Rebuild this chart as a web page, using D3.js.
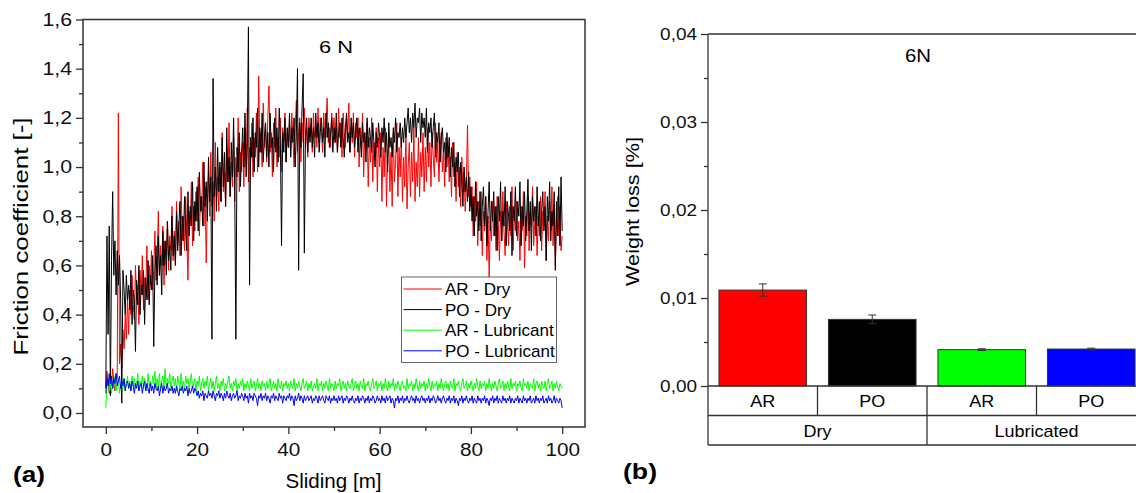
<!DOCTYPE html>
<html>
<head>
<meta charset="utf-8">
<script src="https://cdn.jsdelivr.net/npm/d3@7"></script>
<style>
  body { margin: 0; background: #fff; }
  svg { display: block; font-family: "Liberation Sans", Arial, sans-serif; }
  .axis path, .axis line { stroke: #333; stroke-width: 1.3px; }
  .axis text { fill: #111; }
</style>
</head>
<body>
<div id="chart"></div>
<script>
// friction coefficient over 0..100 m of sliding, sampled every 0.25 m
const slidingMax = 100;

const arDry = [
  0.10,0.17,0.12,0.08,0.15,0.11,0.18,0.13,0.09,0.16,0.14,1.22,0.20,0.28,0.18,0.34,0.26,0.40,0.30,0.46,
  0.32,0.50,0.40,0.56,0.44,0.38,0.60,0.46,0.52,0.36,0.58,0.48,0.64,0.42,0.55,0.50,0.68,0.46,0.60,0.52,
  0.66,0.50,0.58,0.74,0.54,0.62,0.82,0.56,0.68,0.60,0.76,0.52,0.70,0.64,0.78,0.58,0.72,0.66,0.84,0.62,
  0.74,0.60,0.86,0.68,0.78,0.64,0.92,0.70,0.80,0.66,0.88,0.72,0.54,0.82,0.76,0.94,0.68,0.84,0.74,0.90,
  0.78,0.96,0.72,0.88,0.82,1.02,0.76,0.92,0.61,0.86,0.98,0.80,1.06,0.84,0.94,0.78,1.10,0.88,0.96,0.82,
  1.00,0.86,1.14,0.90,0.98,0.84,1.08,0.94,1.18,0.88,1.02,0.92,1.12,0.86,1.04,0.96,1.20,0.90,1.06,0.98,
  1.10,0.92,1.16,1.00,1.24,0.94,1.08,1.02,1.18,0.96,1.12,1.04,1.22,0.98,1.37,1.06,1.14,1.00,1.26,1.08,
  1.16,1.02,1.20,1.33,1.06,1.14,0.96,1.18,1.08,1.24,1.00,1.12,1.04,1.20,0.98,1.16,1.10,1.22,1.02,1.14,
  1.08,1.18,1.04,1.22,1.12,1.00,1.16,1.27,1.06,1.14,1.20,1.02,1.18,1.10,1.24,1.08,1.16,1.04,1.20,1.12,
  1.18,1.06,1.22,1.12,1.16,1.08,1.24,1.10,1.20,1.14,1.06,1.22,1.12,1.18,1.28,1.10,1.16,1.08,1.22,1.14,
  1.20,1.10,1.16,1.06,1.24,1.12,1.18,1.04,1.22,1.14,1.08,1.20,1.12,1.26,1.06,1.16,1.10,1.22,1.04,1.18,
  1.12,1.20,1.00,1.16,1.08,1.22,0.96,1.14,1.06,1.18,0.92,1.12,1.02,1.20,0.94,1.10,1.04,1.16,0.90,1.12,
  1.00,1.14,0.86,1.08,0.96,1.16,0.84,1.04,1.12,0.90,1.06,0.84,1.14,0.94,1.02,1.18,0.88,1.08,0.96,1.12,
  0.86,1.04,0.92,1.14,0.83,1.00,1.10,0.88,1.06,0.94,1.16,0.86,1.02,0.92,1.12,0.88,1.06,0.96,1.14,0.90,
  1.08,0.94,1.16,1.00,1.10,0.92,1.14,1.04,0.96,1.18,1.02,1.10,0.94,1.08,1.14,0.98,1.06,0.92,1.12,1.00,
  1.08,0.94,1.04,0.88,1.10,0.96,1.02,0.86,1.06,0.92,1.00,0.84,1.04,0.90,0.98,0.82,0.94,1.17,0.88,0.96,
  0.84,0.92,0.72,0.88,0.78,0.94,0.68,0.86,0.76,0.90,0.64,0.82,0.74,0.88,0.62,0.80,0.55,0.78,0.70,0.86,
  0.72,0.84,0.66,0.88,0.76,0.62,0.82,0.70,0.90,0.74,0.64,0.86,0.78,0.68,0.84,0.72,0.92,0.66,0.80,0.74,
  0.86,0.70,0.78,0.62,0.84,0.74,0.90,0.59,0.80,0.72,0.88,0.66,0.82,0.76,0.92,0.68,0.78,0.84,0.64,0.80,
  0.72,0.88,0.66,0.82,0.76,0.90,0.62,0.80,0.70,0.86,0.74,0.92,0.68,0.82,0.60,0.78,0.88,0.72,0.84,0.66,
  0.72
];

const poDry = [
  0.10,0.72,0.32,0.76,0.07,0.62,0.90,0.56,0.70,0.48,0.66,0.52,0.64,0.46,0.04,0.58,0.50,0.40,0.56,0.46,
  0.52,0.42,0.58,0.36,0.50,0.46,0.25,0.54,0.44,0.60,0.40,0.52,0.48,0.58,0.36,0.55,0.46,0.62,0.44,0.56,
  0.50,0.64,0.27,0.58,0.68,0.52,0.72,0.56,0.64,0.48,0.74,0.60,0.70,0.56,0.78,0.62,0.68,0.58,0.80,0.64,
  0.72,0.60,0.82,0.66,0.76,0.86,0.64,0.80,0.70,0.88,0.74,0.66,0.90,0.72,0.84,0.76,0.94,0.70,0.86,0.78,
  0.92,0.74,0.98,0.82,0.88,0.76,1.02,0.84,0.94,0.78,1.04,0.86,0.96,0.30,1.36,0.88,1.00,0.82,1.08,0.90,
  1.02,0.86,1.12,0.92,1.06,0.84,1.16,0.94,1.04,0.88,1.10,0.96,1.20,0.90,0.30,1.08,0.98,1.14,0.92,1.06,
  1.16,1.00,1.22,0.96,1.10,1.57,0.52,1.12,1.04,1.20,0.98,1.14,1.08,1.24,1.00,1.16,1.06,1.22,1.02,1.12,
  1.18,1.04,1.14,1.00,1.22,1.08,1.12,0.98,1.20,1.06,1.16,1.02,1.24,1.10,0.68,1.14,1.06,1.20,1.02,1.16,
  1.08,1.22,1.04,1.16,1.10,1.20,1.00,1.14,1.40,0.58,1.18,1.08,1.24,1.38,0.65,1.12,1.20,1.06,1.16,1.10,
  1.20,1.08,1.16,1.04,1.22,1.12,1.18,1.06,1.14,1.20,1.10,1.16,1.04,1.22,1.12,1.18,1.08,1.14,1.20,1.06,
  1.16,1.10,1.22,1.06,1.14,1.18,1.08,1.20,1.12,1.04,1.16,1.22,1.10,1.14,1.06,1.20,1.12,1.18,1.08,1.14,
  1.20,1.06,1.16,1.12,1.04,1.18,1.10,1.14,1.02,1.20,1.08,1.16,1.12,1.06,1.18,1.10,1.00,1.14,1.08,1.18,
  1.12,1.04,1.16,1.10,1.20,1.06,1.14,0.98,1.18,1.08,1.12,1.04,1.16,1.10,1.20,1.06,1.14,1.12,1.18,1.08,
  1.16,1.10,1.20,1.12,1.18,1.24,1.14,1.20,1.10,1.22,1.16,1.26,1.12,1.20,1.18,1.24,1.10,1.22,1.16,1.20,
  1.12,1.24,1.06,1.18,1.14,1.20,1.08,1.16,1.22,1.04,1.14,1.10,1.18,1.02,1.12,1.16,1.06,1.10,0.98,1.14,
  1.04,1.12,0.96,1.08,1.00,1.10,0.92,1.04,0.98,1.06,0.88,1.02,0.94,0.84,1.00,0.90,0.96,0.86,0.98,0.82,
  0.92,0.78,0.88,0.72,0.94,0.80,0.86,0.74,0.90,0.70,0.84,0.92,0.76,0.88,0.68,0.82,0.94,0.74,0.86,0.78,
  0.90,0.72,0.84,0.66,0.88,0.78,0.94,0.70,0.82,0.76,0.92,0.68,0.86,0.80,0.74,0.90,0.64,0.84,0.78,0.92,
  0.72,0.86,0.80,0.94,0.68,0.84,0.76,0.90,0.70,0.82,0.95,0.74,0.86,0.66,0.88,0.78,0.84,0.72,0.92,0.76,
  0.86,0.70,0.82,0.90,0.74,0.84,0.62,0.88,0.78,0.94,0.70,0.82,0.76,0.90,0.58,0.86,0.72,0.92,0.68,0.96,
  0.74
];

const arLub = [
  0.02,0.11,0.14,0.09,0.12,0.08,0.13,0.10,0.15,0.09,0.12,0.14,0.08,0.11,0.13,0.10,0.14,0.09,0.12,0.15,
  0.10,0.13,0.09,0.15,0.11,0.14,0.10,0.12,0.16,0.09,0.13,0.11,0.15,0.10,0.14,0.12,0.09,0.16,0.11,0.13,
  0.10,0.15,0.12,0.17,0.10,0.14,0.11,0.16,0.09,0.13,0.15,0.11,0.18,0.10,0.14,0.12,0.16,0.10,0.13,0.15,
  0.11,0.14,0.09,0.15,0.12,0.10,0.16,0.11,0.13,0.09,0.15,0.12,0.14,0.10,0.13,0.16,0.10,0.12,0.14,0.09,
  0.13,0.11,0.15,0.09,0.12,0.14,0.10,0.13,0.11,0.15,0.09,0.12,0.14,0.10,0.13,0.09,0.12,0.15,0.10,0.12,
  0.09,0.13,0.11,0.14,0.09,0.12,0.10,0.13,0.15,0.10,0.12,0.09,0.13,0.11,0.14,0.09,0.12,0.10,0.13,0.11,
  0.14,0.09,0.12,0.10,0.13,0.11,0.09,0.14,0.10,0.12,0.13,0.09,0.11,0.14,0.10,0.12,0.09,0.13,0.11,0.12,
  0.09,0.13,0.10,0.12,0.14,0.09,0.11,0.13,0.10,0.12,0.09,0.14,0.11,0.10,0.13,0.09,0.12,0.11,0.13,0.10,
  0.12,0.09,0.13,0.11,0.10,0.14,0.09,0.12,0.10,0.13,0.11,0.09,0.12,0.14,0.10,0.11,0.13,0.09,0.12,0.10,
  0.13,0.09,0.11,0.12,0.10,0.14,0.09,0.12,0.11,0.13,0.09,0.12,0.10,0.13,0.11,0.09,0.14,0.10,0.12,0.11,
  0.09,0.13,0.10,0.12,0.11,0.14,0.09,0.11,0.13,0.10,0.12,0.09,0.13,0.11,0.10,0.12,0.14,0.09,0.11,0.13,
  0.10,0.12,0.09,0.13,0.11,0.10,0.14,0.09,0.12,0.11,0.13,0.10,0.09,0.12,0.14,0.10,0.11,0.13,0.09,0.12,
  0.11,0.13,0.09,0.12,0.10,0.14,0.11,0.09,0.13,0.10,0.12,0.11,0.14,0.09,0.12,0.10,0.13,0.11,0.09,0.12,
  0.13,0.10,0.11,0.09,0.14,0.10,0.12,0.11,0.13,0.09,0.12,0.10,0.14,0.11,0.09,0.13,0.10,0.12,0.11,0.13,
  0.09,0.12,0.10,0.14,0.11,0.09,0.13,0.10,0.12,0.11,0.13,0.09,0.12,0.10,0.14,0.11,0.09,0.12,0.13,0.10,
  0.12,0.09,0.13,0.11,0.10,0.14,0.09,0.12,0.11,0.13,0.10,0.09,0.12,0.14,0.10,0.11,0.13,0.09,0.12,0.10,
  0.13,0.11,0.09,0.12,0.10,0.14,0.11,0.09,0.13,0.10,0.12,0.11,0.13,0.09,0.12,0.10,0.14,0.11,0.09,0.12,
  0.10,0.13,0.11,0.09,0.12,0.14,0.10,0.11,0.13,0.09,0.12,0.10,0.13,0.11,0.09,0.14,0.10,0.12,0.11,0.13,
  0.09,0.12,0.11,0.13,0.10,0.09,0.14,0.11,0.12,0.10,0.13,0.09,0.12,0.11,0.10,0.14,0.09,0.12,0.13,0.10,
  0.12,0.09,0.13,0.11,0.10,0.13,0.09,0.12,0.14,0.10,0.11,0.13,0.09,0.12,0.10,0.13,0.11,0.09,0.12,0.11,
  0.10
];

const poLub = [
  0.08,0.14,0.11,0.16,0.12,0.15,0.10,0.14,0.12,0.16,0.11,0.13,0.15,0.10,0.13,0.11,0.14,0.09,0.12,0.13,
  0.10,0.12,0.09,0.13,0.11,0.08,0.12,0.10,0.13,0.09,0.11,0.12,0.08,0.11,0.13,0.09,0.12,0.10,0.08,0.12,
  0.09,0.11,0.08,0.12,0.10,0.09,0.11,0.07,0.10,0.12,0.08,0.11,0.09,0.10,0.12,0.08,0.10,0.09,0.11,0.08,
  0.10,0.08,0.11,0.09,0.07,0.10,0.09,0.11,0.08,0.10,0.09,0.11,0.07,0.10,0.08,0.09,0.11,0.08,0.10,0.09,
  0.07,0.09,0.06,0.08,0.07,0.09,0.05,0.08,0.07,0.06,0.09,0.07,0.08,0.06,0.09,0.07,0.05,0.08,0.07,0.09,
  0.06,0.08,0.07,0.05,0.08,0.06,0.09,0.07,0.06,0.08,0.05,0.07,0.08,0.06,0.07,0.09,0.05,0.07,0.06,0.08,
  0.07,0.05,0.08,0.06,0.07,0.04,0.08,0.06,0.07,0.05,0.08,0.07,0.06,0.03,0.07,0.06,0.08,0.05,0.07,0.06,
  0.08,0.05,0.07,0.06,0.04,0.07,0.06,0.08,0.05,0.07,0.06,0.05,0.08,0.06,0.07,0.04,0.07,0.06,0.05,0.07,
  0.06,0.08,0.05,0.07,0.06,0.03,0.07,0.05,0.06,0.08,0.05,0.07,0.06,0.04,0.07,0.05,0.06,0.07,0.05,0.06,
  0.07,0.04,0.06,0.05,0.07,0.06,0.04,0.07,0.05,0.06,0.07,0.05,0.04,0.07,0.06,0.05,0.07,0.04,0.06,0.05,
  0.07,0.05,0.06,0.04,0.07,0.05,0.06,0.07,0.04,0.06,0.05,0.07,0.06,0.04,0.06,0.05,0.07,0.05,0.04,0.06,
  0.05,0.07,0.04,0.06,0.05,0.07,0.06,0.04,0.06,0.05,0.07,0.04,0.06,0.05,0.07,0.06,0.04,0.05,0.07,0.05,
  0.06,0.04,0.07,0.05,0.06,0.04,0.07,0.05,0.06,0.07,0.04,0.06,0.05,0.02,0.06,0.05,0.07,0.04,0.06,0.05,
  0.07,0.04,0.06,0.05,0.07,0.05,0.04,0.06,0.07,0.05,0.06,0.04,0.07,0.05,0.06,0.04,0.06,0.07,0.05,0.06,
  0.04,0.06,0.05,0.07,0.04,0.06,0.05,0.07,0.06,0.04,0.05,0.07,0.05,0.06,0.04,0.06,0.07,0.05,0.04,0.06,
  0.05,0.07,0.04,0.06,0.05,0.07,0.04,0.06,0.05,0.03,0.06,0.05,0.07,0.04,0.06,0.05,0.07,0.05,0.04,0.06,
  0.05,0.07,0.04,0.06,0.05,0.04,0.07,0.05,0.06,0.04,0.06,0.05,0.07,0.04,0.06,0.05,0.03,0.06,0.05,0.07,
  0.04,0.06,0.05,0.07,0.04,0.06,0.05,0.04,0.07,0.05,0.06,0.04,0.06,0.05,0.07,0.04,0.06,0.05,0.04,0.06,
  0.05,0.07,0.04,0.06,0.05,0.04,0.07,0.05,0.06,0.04,0.06,0.05,0.07,0.04,0.05,0.06,0.04,0.07,0.05,0.06,
  0.04,0.06,0.05,0.07,0.04,0.05,0.06,0.04,0.07,0.05,0.06,0.04,0.05,0.07,0.04,0.06,0.05,0.04,0.06,0.05,
  0.02
];

const lineSeries = [
  {name: 'AR - Dry', color: '#ff0000', values: arDry},
  {name: 'PO - Dry', color: '#000000', values: poDry},
  {name: 'AR - Lubricant', color: '#00ff00', values: arLub},
  {name: 'PO - Lubricant', color: '#0000ff', values: poLub}
];

// weight loss bars
const barMaterials = ['AR', 'PO', 'AR', 'PO'];
const barConditions = ['Dry', 'Dry', 'Lubricated', 'Lubricated'];
const barValues = [0.0109, 0.00757, 0.00413, 0.0042];
const barErrors = [0.0007, 0.0005, 0.0001, 0.0001];
const barColors = ['#ff0000', '#000000', '#00ff00', '#0000ff'];
const conditionGroups = ['Dry', 'Lubricated'];

const leftYTicks = [0, 0.2, 0.4, 0.6, 0.8, 1.0, 1.2, 1.4, 1.6];
const leftXTicks = [0, 20, 40, 60, 80, 100];
const rightYTicks = [0, 0.01, 0.02, 0.03, 0.04];

const width = 1136;
const height = 493;
const comma = fmt => v => d3.format(fmt)(v).replace('.', ',');

// the figure's lettering is a bit wider than Arial
function widen(sel, s) {
  sel.each(function() {
    const t = d3.select(this);
    const x = +t.attr('x') || 0;
    t.attr('x', x / s).attr('transform', 'scale(' + s + ',1)');
  });
}

const svg = d3.select('#chart')
  .append('svg')
  .attr('width', width)
  .attr('height', height);

// ---------- (a) friction coefficient ----------
const x = d3.scaleLinear().domain([-5, 105]).range([83, 585]);
const y = d3.scaleLinear().domain([-0.057, 1.6]).range([427, 19.5]);

const plotA = svg.append('g');

plotA.append('defs').append('clipPath')
  .attr('id', 'clipA')
  .append('rect')
  .attr('x', x.range()[0]).attr('y', y.range()[1])
  .attr('width', x.range()[1] - x.range()[0])
  .attr('height', y.range()[0] - y.range()[1]);

plotA.append('g')
  .attr('clip-path', 'url(#clipA)')
  .selectAll('path')
  .data(lineSeries)
  .enter()
  .append('path')
  .attr('d', function(s) {
    const step = slidingMax / (s.values.length - 1);
    return d3.line()
      .x(function(d, i) { return x(i * step); })
      .y(function(d) { return y(d); })(s.values);
  })
  .attr('fill', 'none')
  .attr('stroke', function(d) { return d.color; })
  .attr('stroke-width', 1);

const yAxisA = plotA.append('g')
  .attr('class', 'axis')
  .attr('transform', 'translate(' + x.range()[0] + ',0)')
  .call(d3.axisLeft(y).tickValues(leftYTicks).tickFormat(comma('.1f')).tickSize(7).tickSizeOuter(0).tickPadding(4))
  .call(g => g.select('.domain').remove());
yAxisA.selectAll('text').attr('font-size', 18.5).call(widen, 1.15);

plotA.append('g')
  .attr('class', 'axis')
  .attr('transform', 'translate(' + x.range()[0] + ',0)')
  .call(d3.axisLeft(y).tickValues(d3.range(0.1, 1.6, 0.2)).tickFormat('').tickSize(4).tickSizeOuter(0))
  .call(g => g.select('.domain').remove());

const xAxisA = plotA.append('g')
  .attr('class', 'axis')
  .attr('transform', 'translate(0,' + y.range()[0] + ')')
  .call(d3.axisBottom(x).tickValues(leftXTicks).tickSize(7).tickSizeOuter(0).tickPadding(9))
  .call(g => g.select('.domain').remove());
xAxisA.selectAll('text').attr('font-size', 18.5).call(widen, 1.12);

plotA.append('g')
  .attr('class', 'axis')
  .attr('transform', 'translate(0,' + y.range()[0] + ')')
  .call(d3.axisBottom(x).tickValues([10, 30, 50, 70, 90]).tickFormat('').tickSize(4).tickSizeOuter(0))
  .call(g => g.select('.domain').remove());

plotA.append('rect')
  .attr('x', x.range()[0]).attr('y', y.range()[1])
  .attr('width', x.range()[1] - x.range()[0])
  .attr('height', y.range()[0] - y.range()[1])
  .attr('fill', 'none')
  .attr('stroke', '#333')
  .attr('stroke-width', 1.5);

plotA.append('text')
  .attr('x', 336).attr('y', 52.5)
  .attr('text-anchor', 'middle')
  .attr('font-size', 17)
  .attr('textLength', 34)
  .attr('lengthAdjust', 'spacingAndGlyphs')
  .text('6 N');

plotA.append('text')
  .attr('transform', 'translate(27.5,236.5) rotate(-90)')
  .attr('text-anchor', 'middle')
  .attr('font-size', 20)
  .attr('textLength', 238)
  .attr('lengthAdjust', 'spacingAndGlyphs')
  .text('Friction coefficient [-]');

plotA.append('text')
  .attr('x', 333.5).attr('y', 488)
  .attr('text-anchor', 'middle')
  .attr('font-size', 19.5)
  .attr('textLength', 96)
  .attr('lengthAdjust', 'spacingAndGlyphs')
  .text('Sliding [m]');

plotA.append('text')
  .attr('x', 13).attr('y', 482)
  .attr('font-size', 22)
  .attr('font-weight', 'bold')
  .attr('textLength', 32)
  .attr('lengthAdjust', 'spacingAndGlyphs')
  .text('(a)');

// legend
const legend = plotA.append('g').attr('transform', 'translate(401.5,277)');
legend.append('rect')
  .attr('width', 155).attr('height', 85.5)
  .attr('fill', '#fff')
  .attr('stroke', '#666')
  .attr('stroke-width', 1);

const legendItem = legend.selectAll('.legend-item')
  .data(lineSeries)
  .enter()
  .append('g')
  .attr('class', 'legend-item')
  .attr('transform', function(d, i) { return 'translate(0,' + (12 + i * 20.6) + ')'; });

legendItem.append('line')
  .attr('x1', 2).attr('x2', 40.5)
  .attr('stroke', function(d) { return d.color; })
  .attr('stroke-width', 1);

legendItem.append('text')
  .attr('x', 43.5).attr('dy', '0.36em')
  .attr('font-size', 17)
  .text(function(d) { return d.name; });

// ---------- (b) weight loss ----------
const xb = d3.scaleBand()
  .domain(d3.range(barValues.length))
  .range([708, 1146])
  .paddingInner(0.2)
  .paddingOuter(0.1);
const yb = d3.scaleLinear().domain([0, 0.04]).range([386, 34]);
const rowH = 29.5;

const plotB = svg.append('g');

plotB.selectAll('.bar')
  .data(barValues)
  .enter()
  .append('rect')
  .attr('class', 'bar')
  .attr('x', function(d, i) { return xb(i); })
  .attr('y', function(d) { return yb(d); })
  .attr('width', xb.bandwidth())
  .attr('height', function(d) { return yb(0) - yb(d); })
  .attr('fill', function(d, i) { return barColors[i]; })
  .attr('stroke', '#333')
  .attr('stroke-width', 1);

const err = plotB.selectAll('.err')
  .data(barValues)
  .enter()
  .append('g')
  .attr('class', 'err')
  .attr('stroke', '#333')
  .attr('stroke-width', 1);

err.append('line')
  .attr('x1', function(d, i) { return xb(i) + xb.bandwidth() / 2; })
  .attr('x2', function(d, i) { return xb(i) + xb.bandwidth() / 2; })
  .attr('y1', function(d, i) { return yb(d + barErrors[i]); })
  .attr('y2', function(d, i) { return yb(d - barErrors[i]); });

[1, -1].forEach(function(sign) {
  err.append('line')
    .attr('x1', function(d, i) { return xb(i) + xb.bandwidth() / 2 - 4; })
    .attr('x2', function(d, i) { return xb(i) + xb.bandwidth() / 2 + 4; })
    .attr('y1', function(d, i) { return yb(d + sign * barErrors[i]); })
    .attr('y2', function(d, i) { return yb(d + sign * barErrors[i]); });
});

const yAxisB = plotB.append('g')
  .attr('class', 'axis')
  .attr('transform', 'translate(708,0)')
  .call(d3.axisLeft(yb).tickValues(rightYTicks).tickFormat(comma('.2f')).tickSize(7).tickSizeOuter(0).tickPadding(4))
  .call(g => g.select('.domain').remove());
yAxisB.selectAll('text').attr('font-size', 16.5).call(widen, 1.15);

plotB.append('g')
  .attr('class', 'axis')
  .attr('transform', 'translate(708,0)')
  .call(d3.axisLeft(yb).tickValues([0.005, 0.015, 0.025, 0.035]).tickFormat('').tickSize(4).tickSizeOuter(0))
  .call(g => g.select('.domain').remove());

// frame and category table under the bars
const step = xb.step();
const x0 = xb.range()[0];
const x1 = xb.range()[1];
const frame = plotB.append('g').attr('stroke', '#333').attr('stroke-width', 1.3).attr('fill', 'none');
frame.append('line').attr('x1', x0).attr('x2', x1).attr('y1', yb.range()[1]).attr('y2', yb.range()[1]);
frame.append('line').attr('x1', x0).attr('x2', x0).attr('y1', yb.range()[1]).attr('y2', yb(0) + 2 * rowH);
frame.append('line').attr('x1', x0).attr('x2', x1).attr('y1', yb(0)).attr('y2', yb(0));
frame.append('line').attr('x1', x0).attr('x2', x1).attr('y1', yb(0) + rowH).attr('y2', yb(0) + rowH);
frame.append('line').attr('x1', x0).attr('x2', x1).attr('y1', yb(0) + 2 * rowH).attr('y2', yb(0) + 2 * rowH);
frame.selectAll('.divider')
  .data(d3.range(1, barValues.length))
  .enter()
  .append('line')
  .attr('x1', function(d) { return x0 + d * step; })
  .attr('x2', function(d) { return x0 + d * step; })
  .attr('y1', yb(0))
  .attr('y2', function(d) { return yb(0) + (barConditions[d] !== barConditions[d - 1] ? 2 : 1) * rowH; });

plotB.selectAll('.mat')
  .data(barMaterials)
  .enter()
  .append('text')
  .attr('x', function(d, i) { return x0 + (i + 0.5) * step; })
  .attr('y', 407.5)
  .attr('text-anchor', 'middle')
  .attr('font-size', 17)
  .call(widen, 1.06)
  .text(function(d) { return d; });

plotB.selectAll('.cond')
  .data(conditionGroups)
  .enter()
  .append('text')
  .attr('x', function(d) {
    const idx = barConditions.map((c, i) => c === d ? i : -1).filter(i => i >= 0);
    return x0 + (d3.mean(idx) + 0.5) * step;
  })
  .attr('y', 437)
  .attr('text-anchor', 'middle')
  .attr('font-size', 17)
  .call(widen, 1.06)
  .text(function(d) { return d; });

plotB.append('text')
  .attr('x', 918).attr('y', 61.5)
  .attr('text-anchor', 'middle')
  .attr('font-size', 18.5)
  .attr('textLength', 26)
  .attr('lengthAdjust', 'spacingAndGlyphs')
  .text('6N');

plotB.append('text')
  .attr('transform', 'translate(639,211.5) rotate(-90)')
  .attr('text-anchor', 'middle')
  .attr('font-size', 19)
  .attr('textLength', 149)
  .attr('lengthAdjust', 'spacingAndGlyphs')
  .text('Weight loss [%]');

plotB.append('text')
  .attr('x', 623).attr('y', 479)
  .attr('font-size', 22)
  .attr('font-weight', 'bold')
  .attr('textLength', 34)
  .attr('lengthAdjust', 'spacingAndGlyphs')
  .text('(b)');
</script>
</body>
</html>
